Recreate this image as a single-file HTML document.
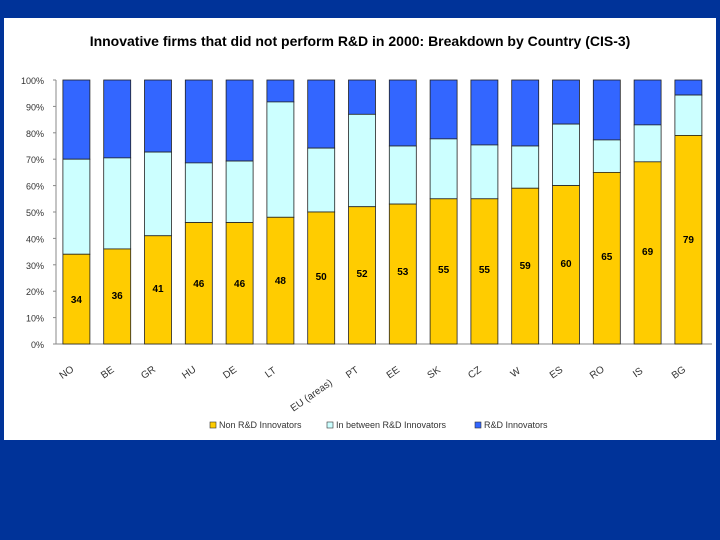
<!DOCTYPE html>
<html><head><meta charset="utf-8"><style>
body{margin:0;width:720px;height:540px;background:#003399;overflow:hidden;font-family:"Liberation Sans",sans-serif}
#box{position:absolute;left:4px;top:18px;width:712px;height:422px;background:#fff}
</style></head><body>
<div id="box"></div>
<svg id="chart" width="720" height="540" style="position:absolute;left:0;top:0"></svg>
<script>
const countries=["NO","BE","GR","HU","DE","LT","EU","PT","EE","SK","CZ","W","ES","RO","IS","BG"];
const nonRD=[34,36,41,46,46,48,50,52,53,55,55,59,60,65,69,79];
const inBetweenTop=[70,70.5,72.7,68.6,69.3,91.7,74.2,87,75,77.7,75.4,75,83.3,77.3,83,94.3];
const yTicks=[0,10,20,30,40,50,60,70,80,90,100];
const ns="http://www.w3.org/2000/svg";
const svg=document.getElementById('chart');
const x0=56,slot=40.8,bw=27,yB=344,yT=80;
const y=v=>yB-(yB-yT)*v/100;
const xc=i=>x0+slot*(i+0.5);
function mk(t,a,p){const e=document.createElementNS(ns,t);for(const k in a)e.setAttribute(k,a[k]);(p||svg).appendChild(e);return e;}
const title=mk('text',{x:360,y:46,'text-anchor':'middle','font-size':14,'font-weight':'bold',fill:'#000'});
title.textContent="Innovative firms that did not perform R&D in 2000: Breakdown by Country (CIS-3)";


mk('line',{x1:x0,y1:yT,x2:x0,y2:yB,stroke:'#888'});
mk('line',{x1:x0,y1:yB,x2:712,y2:yB,stroke:'#888'});
yTicks.forEach(v=>{
  const t=mk('text',{x:44,y:y(v)+4,'text-anchor':'end','font-size':9,fill:'#333'});
  t.textContent=v+'%';
  
  
  mk('line',{x1:x0-3,y1:y(v),x2:x0,y2:y(v),stroke:'#888'});
});
countries.forEach((c,i)=>{
  const l=xc(i)-bw/2;
  const r1=mk('rect',{x:l,y:y(100),width:bw,height:y(inBetweenTop[i])-y(100),fill:'#3366ff',stroke:'#222','stroke-width':0.8});
  
  
  const r2=mk('rect',{x:l,y:y(inBetweenTop[i]),width:bw,height:y(nonRD[i])-y(inBetweenTop[i]),fill:'#ccffff',stroke:'#222','stroke-width':0.8});
  
  
  const r3=mk('rect',{x:l,y:y(nonRD[i]),width:bw,height:yB-y(nonRD[i]),fill:'#ffcc00',stroke:'#222','stroke-width':0.8});
  
  
  const ly=Math.min(303, y(nonRD[i])+ (nonRD[i]>60? 6 : 12) + (nonRD[i]>70?-0:0));
  const vy=[303,299,292,287,287,284,280,277,275,273,273,269,267,260,255,243][i];
  const vt=mk('text',{x:xc(i),y:vy,'text-anchor':'middle','font-size':10,'font-weight':'bold',fill:'#000'});
  vt.textContent=nonRD[i];
  
  
  const lx=xc(i)-8, lyy=c==="EU"?398:375;
  const ct=mk('text',{x:lx,y:lyy,'text-anchor':'middle','font-size':10,fill:'#333',transform:`rotate(-35 ${lx} ${lyy})`});
  ct.textContent=c==="EU"?"EU (areas)":c;
  
  
});
const leg=[["#ffcc00","Non R&D Innovators",210],["#ccffff","In between R&D Innovators",327],["#3366ff","R&D Innovators",475]];
leg.forEach(L=>{
  const g=mk('g',{});
  
  
  mk('rect',{x:L[2],y:422,width:6,height:6,fill:L[0],stroke:'#333','stroke-width':0.6},g);
  const t=mk('text',{x:L[2]+9,y:428,'font-size':9,fill:'#333'},g);t.textContent=L[1];
});
</script>
</body></html>
